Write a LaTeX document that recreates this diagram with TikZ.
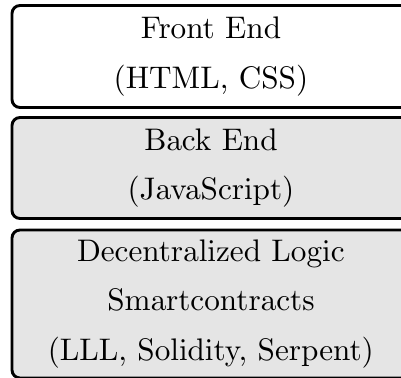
\documentclass[tikz,border=0pt]{standalone}
\DeclareFontFamily{OT1}{cmx}{\hyphenchar\font=-1}
\DeclareFontShape{OT1}{cmx}{m}{n}{<-> cmr10}{}
\begin{document}
\begin{tikzpicture}[x=0.75pt,y=-0.75pt,
  layer/.style={draw=black, line width=2.2pt, rounded corners=6pt,
    minimum width=298.5pt, align=center, inner sep=0pt,
    font=\fontencoding{OT1}\fontfamily{cmx}\fontsize{23.4}{37.1}\selectfont},
  shaded/.style={fill=black!10}]
\useasboundingbox (0,0) rectangle (401,378);
\node[layer, fill=white, minimum height=76.5pt] (front) at (211,56.5) {Front End\\(HTML, CSS)};
\node[layer, shaded, minimum height=75.75pt] (back) at (211,168) {Back End\\(JavaScript)};
\node[layer, shaded, minimum height=111pt] (logic) at (211,304) {Decentralized Logic\\Smartcontracts\\(LLL, Solidity, Serpent)};
\end{tikzpicture}
\end{document}
